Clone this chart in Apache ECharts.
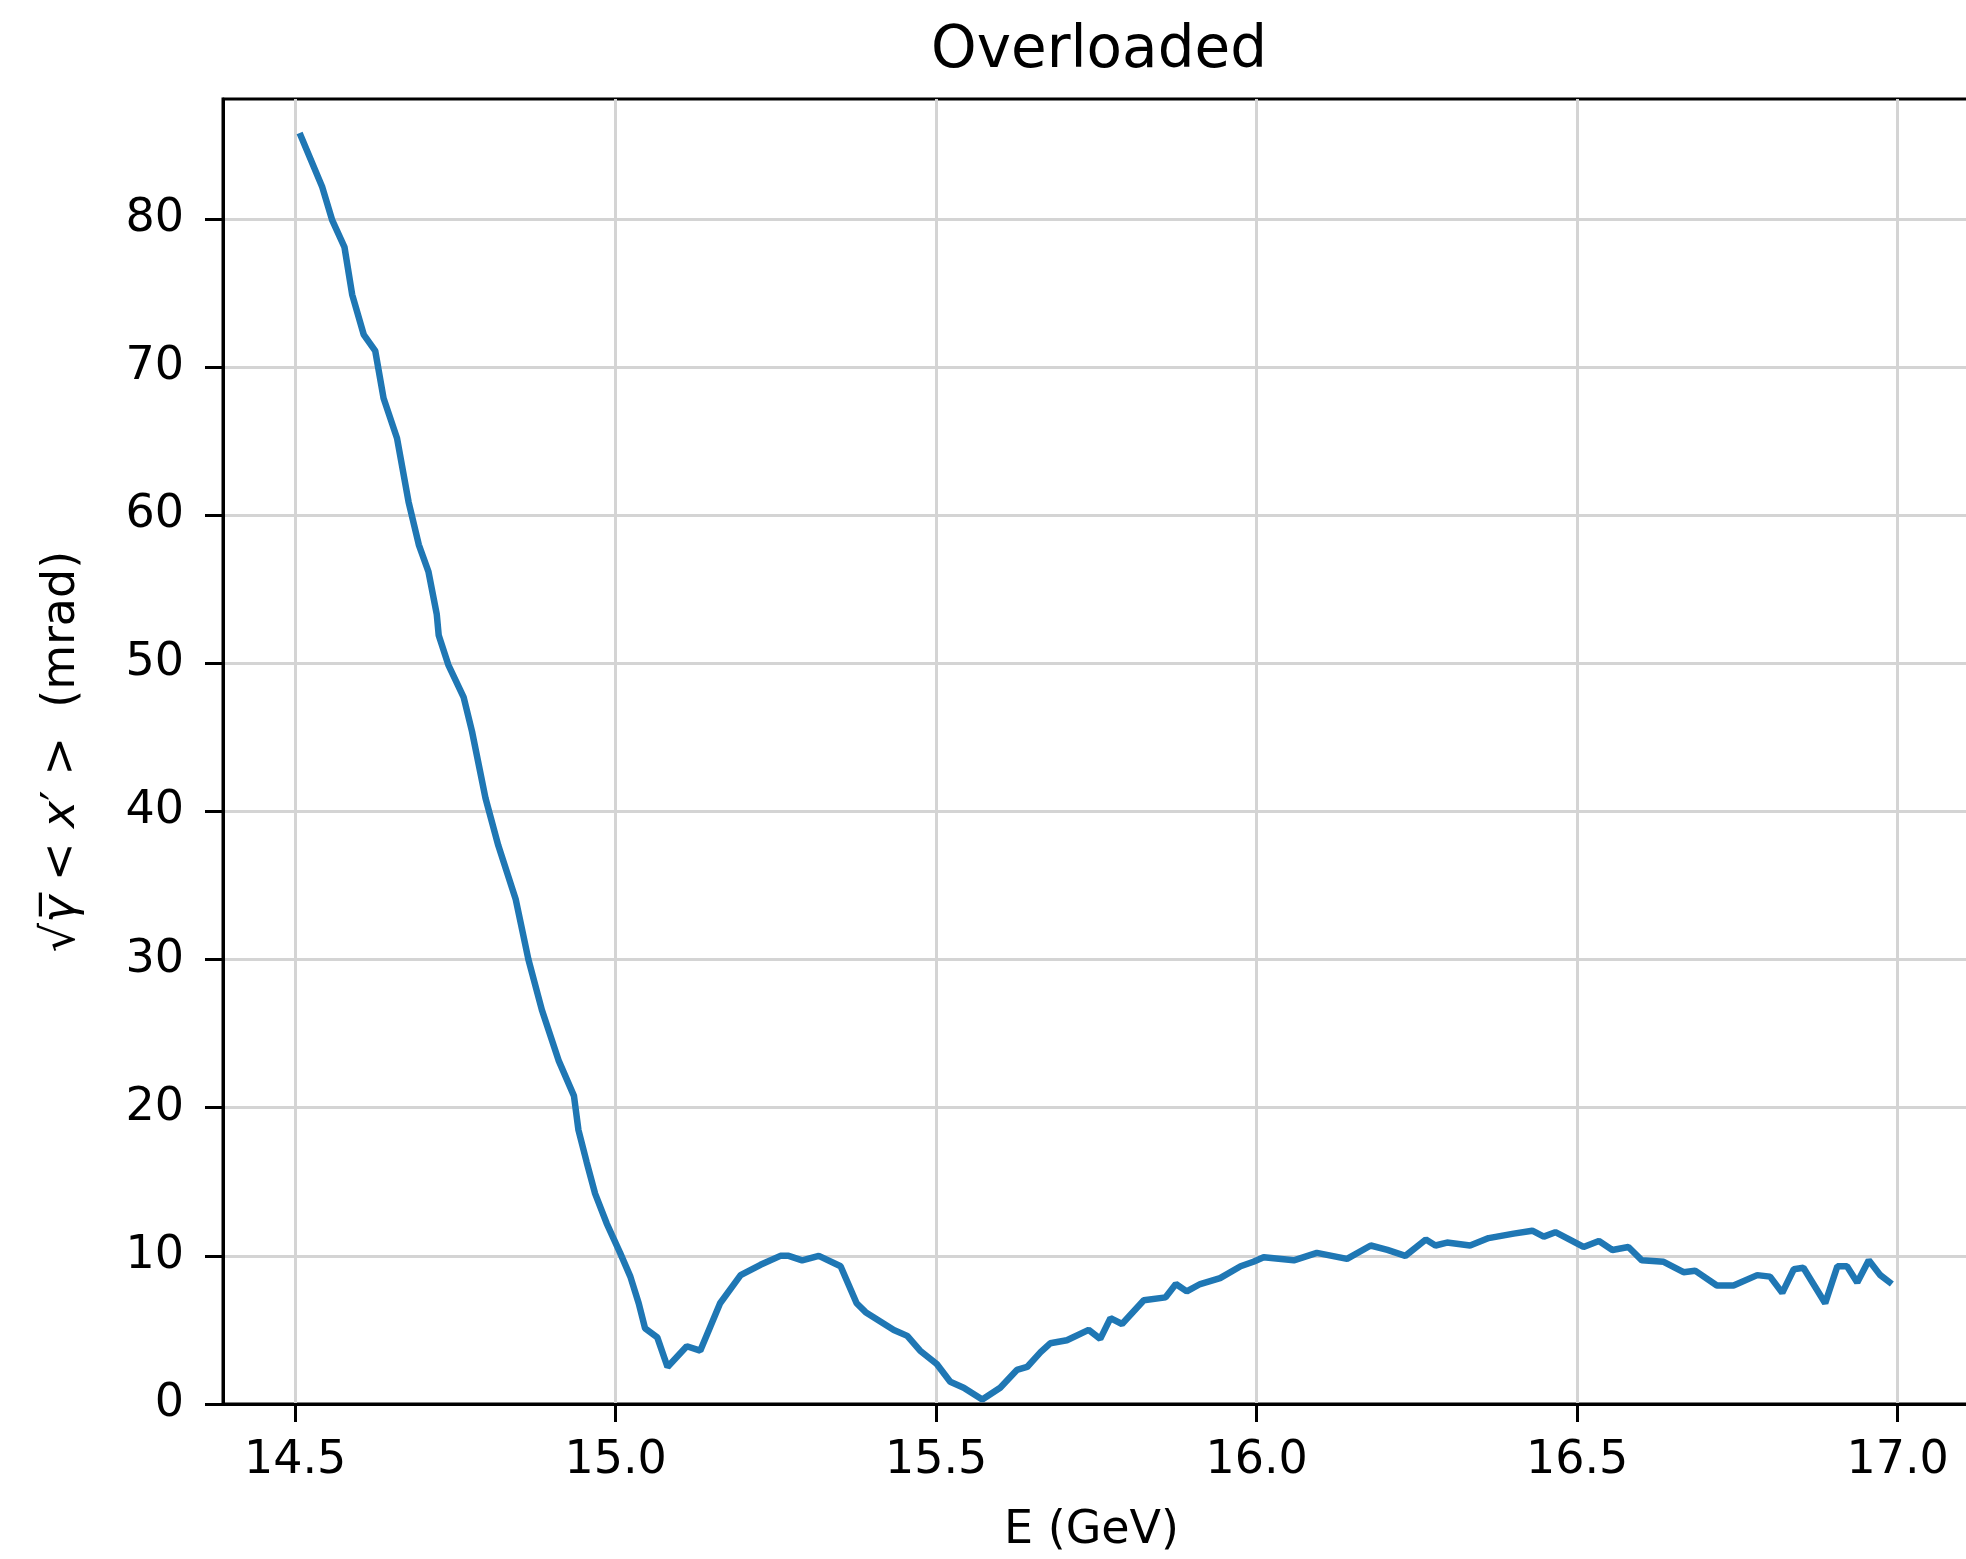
<!DOCTYPE html>
<html>
<head>
<meta charset="utf-8">
<script src="https://cdn.jsdelivr.net/npm/echarts@6/dist/echarts.min.js"></script>
<style>
html,body{margin:0;padding:0;background:#fff;}
#chart{width:1966px;height:1559px;}
</style>
</head>
<body>
<div id="chart"></div>
<script>
// ---- data ----
const energy = [
14.507,14.542,14.558,14.577,14.589,14.607,14.625,14.638,14.659,14.677,14.693,14.708,14.721,
14.724,14.739,14.763,14.776,14.797,14.817,14.844,14.864,14.885,14.911,14.935,
14.942,14.955,14.968,14.986,15.007,15.023,15.036,15.046,15.065,15.081,15.111,15.132,15.163,
15.195,15.226,15.257,15.270,15.291,15.317,15.351,15.376,15.390,15.434,15.455,15.475,15.501,
15.522,15.543,15.572,15.600,15.626,15.642,15.663,15.678,15.704,15.738,15.756,15.772,15.790,
15.824,15.858,15.874,15.891,15.912,15.943,15.975,15.995,16.011,16.058,16.094,16.141,16.178,
16.204,16.232,16.264,16.279,16.297,16.333,16.362,16.401,16.430,16.448,16.466,16.484,16.510,
16.534,16.555,16.580,16.601,16.635,16.666,16.684,16.718,16.744,16.781,16.801,16.820,16.838,
16.853,16.887,16.906,16.921,16.937,16.955,16.973,16.991
];
const signal = [
85.8,82.2,79.9,78.1,74.9,72.2,71.1,67.9,65.2,60.9,58.0,56.2,53.3,
51.9,49.9,47.7,45.4,40.9,37.7,34.1,30.0,26.6,23.2,20.8,
18.5,16.3,14.2,12.2,10.2,8.6,6.8,5.1,4.5,2.5,3.9,3.6,6.8,
8.7,9.4,10.0,10.0,9.7,10.0,9.3,6.8,6.2,5.0,4.6,3.6,2.7,
1.5,1.1,0.3,1.1,2.3,2.5,3.5,4.1,4.3,5.0,4.4,5.8,5.4,
7.0,7.2,8.1,7.6,8.1,8.5,9.3,9.6,9.9,9.7,10.2,9.8,10.7,
10.4,10.0,11.1,10.7,10.9,10.7,11.2,11.5,11.7,11.3,11.6,11.2,10.6,
11.0,10.4,10.6,9.7,9.6,8.9,9.0,8.0,8.0,8.7,8.6,7.5,9.1,
9.2,6.8,9.3,9.3,8.2,9.7,8.7,8.1
];
const xTicks = [14.5, 15.0, 15.5, 16.0, 16.5, 17.0];
const yTicks = [0, 10, 20, 30, 40, 50, 60, 70, 80];
const titleText = 'Overloaded';
const xName = 'E (GeV)';

const points = energy.map((e, i) => [e, signal[i]]);

const FONT = 'DejaVu Sans';
const chart = echarts.init(document.getElementById('chart'), null, {renderer: 'canvas'});
chart.setOption({
  animation: false,
  backgroundColor: '#ffffff',
  title: {
    text: titleText,
    left: 926,
    top: 18,
    textStyle: {fontFamily: FONT, fontSize: 58, fontWeight: 'normal', color: '#000'}
  },
  grid: {
    left: 223, top: 99, width: 1747, height: 1305,
    outerBoundsMode: 'none', containLabel: false,
    show: true, borderColor: '#000', borderWidth: 3, backgroundColor: '#fff'
  },
  xAxis: {
    type: 'value',
    min: 14.3875, max: 17.1129,
    name: xName, nameLocation: 'middle', nameGap: 104,
    nameTextStyle: {fontFamily: FONT, fontSize: 46, color: '#000', padding: [0, 10, 0, 0]},
    axisLine: {show: true, lineStyle: {color: '#000', width: 3}},
    axisTick: {show: true, length: 18, lineStyle: {color: '#000', width: 3}, customValues: xTicks},
    axisLabel: {customValues: xTicks, margin: 34, fontFamily: FONT, fontSize: 46, color: '#000',
      formatter: v => v.toFixed(1)},
    splitLine: {show: true, lineStyle: {color: '#d4d4d4', width: 3}}
  },
  yAxis: {
    type: 'value',
    min: 0, max: 88.1,
    name: '{r|√}{g|γ\u0305}{t| < }{i|x}{t|′ >}  (mrad)',
    nameLocation: 'middle', nameGap: 138, nameRotate: 90,
    nameTextStyle: {fontFamily: FONT, fontSize: 46, color: '#000',
      rich: {
        r: {fontFamily: FONT, fontSize: 46, color: '#000'},
        g: {fontFamily: FONT, fontSize: 46, fontStyle: 'italic', color: '#000'},
        t: {fontFamily: FONT, fontSize: 46, color: '#000'},
        i: {fontFamily: FONT, fontSize: 46, fontStyle: 'italic', color: '#000'}
      }},
    axisLine: {show: true, lineStyle: {color: '#000', width: 3}},
    axisTick: {show: true, length: 18, lineStyle: {color: '#000', width: 3}, customValues: yTicks},
    axisLabel: {customValues: yTicks, margin: 39, fontFamily: FONT, fontSize: 46, color: '#000'},
    splitLine: {show: true, lineStyle: {color: '#d4d4d4', width: 3}}
  },
  series: [{
    type: 'line',
    data: points,
    showSymbol: false,
    symbol: 'none',
    lineStyle: {color: '#1f77b4', width: 6.5},
    itemStyle: {color: '#1f77b4'},
    clip: true
  }]
});
</script>
</body>
</html>
